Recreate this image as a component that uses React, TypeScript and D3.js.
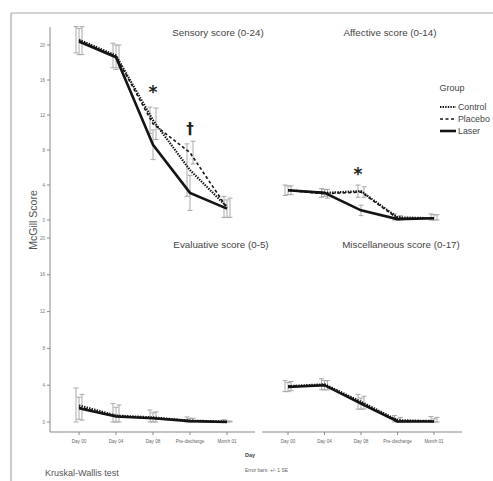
import React from 'react';
import * as d3 from 'd3';

// x categories (tick labels are barely legible in the source)
const days = ['Day 00', 'Day 04', 'Day 08', 'Pre-discharge', 'Month 01'];
const groups = ['Control', 'Placebo', 'Laser'];
const yTicks = [0, 4, 8, 12, 16, 20];

// Sensory score (0-24)
const sensoryControl = [20.6, 18.8, 11.4, 5.7, 1.5];
const sensoryPlacebo = [20.5, 18.7, 11.0, 7.7, 1.4];
const sensoryLaser = [20.4, 18.6, 8.6, 3.1, 1.3];
const sensorySEControl = [1.5, 1.4, 1.5, 3.0, 1.2];
const sensorySEPlacebo = [1.6, 1.3, 1.8, 1.3, 1.1];
const sensorySELaser = [1.5, 1.4, 1.7, 2.0, 1.0];

// Affective score (0-14)
const affectiveControl = [3.4, 3.1, 3.3, 0.3, 0.2];
const affectivePlacebo = [3.4, 3.0, 3.2, 0.2, 0.2];
const affectiveLaser = [3.4, 3.1, 1.1, 0.1, 0.2];
const affectiveSEControl = [0.6, 0.5, 0.7, 0.4, 0.5];
const affectiveSEPlacebo = [0.5, 0.5, 0.6, 0.3, 0.4];
const affectiveSELaser = [0.5, 0.4, 0.6, 0.3, 0.4];

// Evaluative score (0-5)
const evaluativeControl = [1.8, 0.7, 0.5, 0.15, 0.05];
const evaluativePlacebo = [1.6, 0.65, 0.4, 0.1, 0.0];
const evaluativeLaser = [1.5, 0.6, 0.4, 0.1, 0.0];
const evaluativeSEControl = [1.9, 1.3, 0.8, 0.4, 0.2];
const evaluativeSEPlacebo = [1.4, 1.2, 0.7, 0.3, 0.1];
const evaluativeSELaser = [1.2, 1.0, 0.6, 0.3, 0.1];

// Miscellaneous score (0-17)
const miscControl = [3.9, 4.1, 2.2, 0.2, 0.1];
const miscPlacebo = [3.9, 4.0, 2.1, 0.1, 0.1];
const miscLaser = [3.8, 4.0, 2.0, 0.05, 0.05];
const miscSEControl = [0.6, 0.6, 0.8, 0.5, 0.5];
const miscSEPlacebo = [0.5, 0.5, 0.7, 0.4, 0.4];
const miscSELaser = [0.5, 0.5, 0.6, 0.3, 0.3];

const styles: Record<string, { dash: string; width: number }> = {
  Control: { dash: '1.4,1.2', width: 2.2 },
  Placebo: { dash: '3,2.5', width: 1.6 },
  Laser: { dash: '', width: 2.6 },
};
const offsets: Record<string, number> = { Control: -3, Placebo: 3, Laser: 0 };

const xLeft = d3.scalePoint<string>().domain(days).range([79, 227]);
const xRight = d3.scalePoint<string>().domain(days).range([288, 434]);
const yTop = d3.scaleLinear().domain([0, 20]).range([220, 45]);
const yBottom = d3.scaleLinear().domain([0, 20]).range([422, 238]);

const panels = [
  {
    title: 'Sensory score (0-24)', tx: 218, ty: 36, x: xLeft, y: yTop,
    series: [sensoryControl, sensoryPlacebo, sensoryLaser],
    se: [sensorySEControl, sensorySEPlacebo, sensorySELaser],
  },
  {
    title: 'Affective score (0-14)', tx: 390, ty: 36, x: xRight, y: yTop,
    series: [affectiveControl, affectivePlacebo, affectiveLaser],
    se: [affectiveSEControl, affectiveSEPlacebo, affectiveSELaser],
  },
  {
    title: 'Evaluative score (0-5)', tx: 221, ty: 248, x: xLeft, y: yBottom,
    series: [evaluativeControl, evaluativePlacebo, evaluativeLaser],
    se: [evaluativeSEControl, evaluativeSEPlacebo, evaluativeSELaser],
  },
  {
    title: 'Miscellaneous score (0-17)', tx: 401, ty: 248, x: xRight, y: yBottom,
    series: [miscControl, miscPlacebo, miscLaser],
    se: [miscSEControl, miscSEPlacebo, miscSELaser],
  },
];

const font = 'Liberation Sans, Arial, sans-serif';

function Panel({ p }: { p: (typeof panels)[number] }) {
  const line = d3
    .line<number>()
    .x((_, i) => p.x(days[i]) as number)
    .y((v) => p.y(v));
  return (
    <g>
      <text x={p.tx} y={p.ty} textAnchor="middle" fontSize={9.8} fill="#444" fontFamily={font}>
        {p.title}
      </text>
      {p.series.map((vals, gi) => {
        const g = groups[gi];
        return (
          <g key={g} stroke="#a0a0a0" strokeWidth={0.9}>
            {vals.map((v, i) => {
              const cx = (p.x(days[i]) as number) + offsets[g];
              const y1 = p.y(Math.max(v - p.se[gi][i], 0));
              const y2 = p.y(v + p.se[gi][i]);
              return (
                <g key={i}>
                  <line x1={cx} x2={cx} y1={y1} y2={y2} />
                  <line x1={cx - 2.5} x2={cx + 2.5} y1={y1} y2={y1} />
                  <line x1={cx - 2.5} x2={cx + 2.5} y1={y2} y2={y2} />
                </g>
              );
            })}
          </g>
        );
      })}
      {p.series.map((vals, gi) => {
        const g = groups[gi];
        return (
          <path
            key={g}
            d={line(vals) || ''}
            fill="none"
            stroke="#141414"
            strokeWidth={styles[g].width}
            strokeDasharray={styles[g].dash}
          />
        );
      })}
    </g>
  );
}

function XAxis({ x, x1, x2 }: { x: d3.ScalePoint<string>; x1: number; x2: number }) {
  return (
    <g>
      <line x1={x1} x2={x2} y1={432} y2={432} stroke="#8a8a8a" strokeWidth={1} />
      {days.map((d) => (
        <g key={d} transform={`translate(${x(d)},432)`}>
          <line y1={0} y2={3} stroke="#8a8a8a" />
          <text y={11} textAnchor="middle" fontSize={4.6} fill="#666" fontFamily={font}>
            {d}
          </text>
        </g>
      ))}
    </g>
  );
}

function YAxis({ y }: { y: d3.ScaleLinear<number, number> }) {
  return (
    <g>
      {yTicks.map((t) => (
        <g key={t} transform={`translate(50,${y(t)})`}>
          <line x1={-3} x2={0} stroke="#8a8a8a" />
          <text x={-5} dy="0.35em" textAnchor="end" fontSize={4.6} fill="#777" fontFamily={font}>
            {t}
          </text>
        </g>
      ))}
    </g>
  );
}

export default function App() {
  return (
    <svg width={493} height={481} style={{ position: 'absolute', left: 0, top: 0, background: '#fff' }}>
      <rect width={493} height={481} fill="#fff" />
      {/* outer frame */}
      <line x1={11} x2={493} y1={13} y2={13} stroke="#a8a8a8" strokeWidth={1.2} />
      <line x1={11} x2={11} y1={13} y2={481} stroke="#a8a8a8" strokeWidth={1.2} />

      <line x1={50} x2={50} y1={27} y2={432} stroke="#8a8a8a" strokeWidth={1} />
      <YAxis y={yTop} />
      <YAxis y={yBottom} />
      <XAxis x={xLeft} x1={50} x2={255} />
      <XAxis x={xRight} x1={262} x2={462} />

      <text
        transform="translate(37,220) rotate(-90)"
        textAnchor="middle"
        fontSize={10.5}
        fill="#555"
        fontFamily={font}
      >
        McGill Score
      </text>

      {panels.map((p) => (
        <Panel key={p.title} p={p} />
      ))}

      {/* significance marks */}
      <text x={xLeft(days[2])} y={98} textAnchor="middle" fontSize={17} fontWeight="bold" fill="#222" fontFamily="DejaVu Sans, sans-serif">
        *
      </text>
      <text x={xLeft(days[3])} y={134} textAnchor="middle" fontSize={15} fontWeight="bold" fill="#222" fontFamily="DejaVu Sans, sans-serif">
        {'\u2020'}
      </text>
      <text x={(xRight(days[2]) as number) - 3} y={180} textAnchor="middle" fontSize={17} fontWeight="bold" fill="#222" fontFamily="DejaVu Sans, sans-serif">
        *
      </text>

      {/* legend */}
      <text x={452} y={91} textAnchor="middle" fontSize={9} fill="#444" fontFamily={font}>
        Group
      </text>
      {groups.map((g, i) => (
        <g key={g} transform={`translate(440,${107 + i * 12})`}>
          <line x1={0} x2={16} y1={0} y2={0} stroke="#141414" strokeWidth={styles[g].width} strokeDasharray={styles[g].dash} />
          <text x={18} dy="0.35em" fontSize={8.8} fill="#444" fontFamily={font}>
            {g}
          </text>
        </g>
      ))}

      <text x={245} y={457} fontSize={5.5} fontWeight="bold" fill="#444" fontFamily={font}>
        Day
      </text>
      <text x={245} y={472} fontSize={5} fill="#666" fontFamily={font}>
        Error bars: +/- 1 SE
      </text>
      <text x={45} y={476} fontSize={9} fill="#555" fontFamily={font}>
        Kruskal-Wallis test
      </text>
    </svg>
  );
}
